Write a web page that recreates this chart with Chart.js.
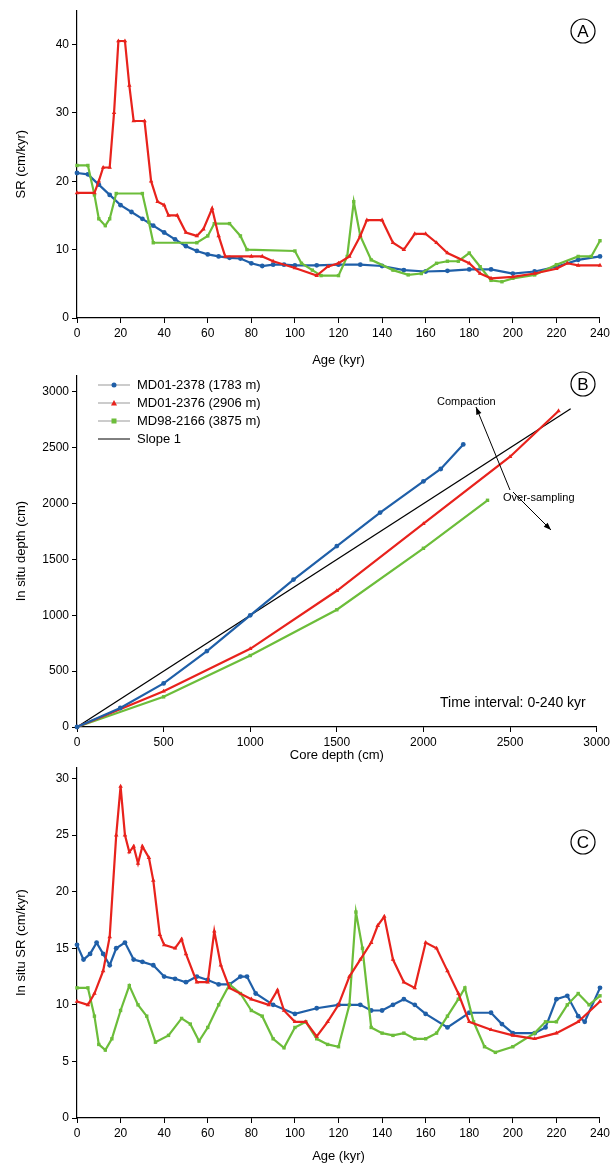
<!DOCTYPE html>
<html><head><meta charset="utf-8">
<script src="https://cdn.jsdelivr.net/npm/chart.js@4"></script>
<style>
body{margin:0;background:#fff;width:613px;height:1166px;overflow:hidden;font-family:Arial,"Liberation Sans",sans-serif}
.p{position:absolute;left:0;width:613px}
</style></head><body>
<div class="p" style="top:0;height:370px"><canvas id="cA"></canvas></div>
<div class="p" style="top:365px;height:400px"><canvas id="cB"></canvas></div>
<div class="p" style="top:757px;height:409px"><canvas id="cC"></canvas></div>
<script>
const BLUE = '#1f5fa8', RED = '#e8221c', GREEN = '#6cbd3a';
const SERIES_NAMES = ['MD01-2378 (1783 m)', 'MD01-2376 (2906 m)', 'MD98-2166 (3875 m)'];

// Panel A: sedimentation rate vs age
const srBlueAge = [0,5,10,15,20,25,30,35,40,45,50,55,60,65,70,75,80,85,90,95,100,110,120,130,140,150,160,170,180,190,200,210,220,230,240];
const srBlue = [21.2,21,19.5,18,16.5,15.5,14.5,13.5,12.5,11.5,10.5,9.8,9.3,9,8.8,8.7,8,7.6,7.8,7.8,7.7,7.7,7.8,7.8,7.6,7,6.8,6.9,7.1,7.1,6.5,6.8,7.5,8.5,9];
const srRedAge = [0,8,10,12,15,17,19,22,24,26,31,34,37,40,42,46,50,55,58,62,65,68,80,85,90,100,110,115,120,125,130,133,140,145,150,155,160,165,170,180,185,190,200,210,220,225,230,240];
const srRed = [18.3,18.3,20,22,22,30,40.5,40.5,34,28.8,28.8,20,17,16.5,15,15,12.5,12,13,16,12,9,9,9,8.3,7.3,6.2,7.5,8,9,12,14.3,14.3,11,10,12.3,12.3,11,9.5,8,6.5,5.8,6,6.5,7.2,8,7.7,7.7];
const srGreenAge = [0,5,8,10,13,15,18,30,33,35,55,60,63,70,75,78,100,103,108,112,120,124,127,130,135,145,152,158,165,170,175,180,185,190,195,200,210,220,230,236,240];
const srGreen = [22.3,22.3,18,14.5,13.5,14.5,18.2,18.2,14,11,11,12,13.8,13.8,12,10,9.8,8,7,6.2,6.2,9,17,12,8.5,7,6.3,6.5,8,8.3,8.3,9.5,7.5,5.5,5.3,5.8,6.3,7.8,9,9,11.3];

// Panel B: in situ depth vs core depth
const dBlueCore = [0,250,500,750,1000,1250,1500,1750,2000,2100,2230];
const dBlue = [0,170,390,680,1000,1320,1620,1920,2200,2310,2530];
const dRedCore = [0,500,1000,1500,2000,2500,2780];
const dRed = [0,320,700,1220,1820,2420,2830];
const dGreenCore = [0,500,1000,1500,2000,2370];
const dGreen = [0,270,640,1050,1600,2030];
const slopeCore = [0,2850];

// Panel C: in situ sedimentation rate vs age
const isBlueAge = [0,3,6,9,12,15,18,22,26,30,35,40,45,50,55,60,65,70,75,78,82,90,100,110,120,130,135,140,145,150,155,160,170,180,190,195,200,210,215,220,225,230,233,240];
const isBlue = [15.3,14,14.5,15.5,14.5,13.5,15,15.5,14,13.8,13.5,12.5,12.3,12,12.5,12.2,11.8,11.8,12.5,12.5,11,10,9.2,9.7,10,10,9.5,9.5,10,10.5,10,9.2,8,9.3,9.3,8.3,7.5,7.5,8,10.5,10.8,9,8.5,11.5];
const isRedAge = [0,5,8,12,15,18,20,22,24,26,28,30,33,35,38,40,45,48,50,55,60,63,66,70,80,88,92,95,100,105,110,115,120,125,130,135,138,141,145,150,155,160,165,170,175,180,190,200,210,220,230,240];
const isRed = [10.3,10,11,13,16,25,29.3,25,23.5,24,22.5,24,23,21,16.2,15.3,15,15.8,14.5,12,12,16.5,13.5,11.5,10.5,10,11.3,9.5,8.5,8.5,7.2,8.5,10,12.5,14,15.5,17,17.8,14,12,11.5,15.5,15,13,11,8.5,7.8,7.3,7,7.5,8.5,10.3];
const isGreenAge = [0,5,8,10,13,16,20,24,28,32,36,42,48,52,56,60,65,70,75,80,85,90,95,100,105,110,115,120,125,128,131,135,140,145,150,155,160,165,170,175,178,182,187,192,200,210,215,220,225,230,235,240];
const isGreen = [11.5,11.5,9,6.5,6,7,9.5,11.7,10,9,6.7,7.3,8.8,8.3,6.8,8,10,11.8,11,9.5,9,7,6.2,8,8.5,7,6.5,6.3,10,18.2,15,8,7.5,7.3,7.5,7,7,7.5,9,10.5,11.5,8.5,6.3,5.8,6.3,7.5,8.5,8.5,10,11,10,10.8];

const ageTicks = [0,20,40,60,80,100,120,140,160,180,200,220,240];

function pts(xs, ys){ return xs.map((x,i)=>({x:x, y:ys[i]})); }
function ds(xs, ys, color, shape, r){
  return {data: pts(xs,ys), showLine:true, borderColor:color, borderWidth:2.2, backgroundColor:color,
    pointStyle:shape, pointRadius:r, pointBorderWidth:0, pointHoverRadius:r};
}
const font = {family:'Arial, "Liberation Sans", sans-serif', size:12};
const tfont = {family:'Arial, "Liberation Sans", sans-serif', size:13};

function letterPlugin(letter, cx, cy, extra){
  return {id:'lab'+letter, afterDraw(ch){
    const c = ch.ctx; c.save();
    c.beginPath(); c.arc(cx, cy, 12, 0, Math.PI*2); c.strokeStyle='#000'; c.lineWidth=1.2; c.stroke();
    c.fillStyle='#000'; c.font='17px Arial, "Liberation Sans", sans-serif'; c.textAlign='center'; c.textBaseline='middle';
    c.fillText(letter, cx, cy+1);
    if (extra) extra(ch, c);
    c.restore();
  }};
}
function axisCfg(min, max, title, ticksList, fitW, fitH, isX){
  return {type:'linear', min:min, max:max, border:{color:'#000', width:1.2},
    grid:{drawOnChartArea:false, drawTicks:true, tickLength:5, color:'#000'},
    ticks:{color:'#000', font:font, padding:3, autoSkip:false, callback:(v)=>String(v)},
    title:{display:true, text:title, color:'#000', font:tfont, padding:{top:2,bottom:2}},
    afterBuildTicks(s){ s.ticks = ticksList.map(v=>({value:v})); },
    afterFit(s){ if (isX) s.height = fitH; else s.width = fitW; }};
}
function makeChart(id, datasets, xAxis, yAxis, plugins){
  return new Chart(document.getElementById(id), {
    type:'scatter', data:{datasets:datasets},
    options:{responsive:true, maintainAspectRatio:false, animation:false, clip:false,
      layout:{padding:{left:12, right:13, top:10, bottom:0}},
      plugins:{legend:{display:false}, tooltip:{enabled:false}},
      scales:{x:xAxis, y:yAxis}},
    plugins:plugins
  });
}

makeChart('cA', [
  ds(srRedAge, srRed, RED, 'triangle', 2.6),
  ds(srGreenAge, srGreen, GREEN, 'rect', 2.4),
  ds(srBlueAge, srBlue, BLUE, 'circle', 2.4)
], axisCfg(0,240,'Age (kyr)',ageTicks,0,52,true),
   axisCfg(0,45,'SR (cm/kyr)',[0,10,20,30,40],65,0,false),
   [letterPlugin('A', 583, 31)]);

function legendExtra(ch, c){
  const items = [[BLUE,'circle'],[RED,'triangle'],[GREEN,'rect'],['#000',null]];
  const names = SERIES_NAMES.concat(['Slope 1']);
  c.font = '13px Arial, "Liberation Sans", sans-serif'; c.textAlign='left'; c.textBaseline='middle';
  items.forEach((it,i)=>{
    const y = 20 + i*18;
    c.strokeStyle = it[1] ? '#999' : '#000'; c.lineWidth = 1;
    c.beginPath(); c.moveTo(98,y); c.lineTo(130,y); c.stroke();
    if (it[1]) {
      c.fillStyle = it[0];
      if (it[1]==='circle'){ c.beginPath(); c.arc(114,y,2.5,0,Math.PI*2); c.fill(); }
      else if (it[1]==='triangle'){ c.beginPath(); c.moveTo(114,y-3); c.lineTo(117,y+2.5); c.lineTo(111,y+2.5); c.fill(); }
      else c.fillRect(111.5,y-2.5,5,5);
    }
    c.fillStyle='#000'; c.fillText(names[i], 137, y);
  });
  c.font = '11px Arial, "Liberation Sans", sans-serif';
  c.fillText('Compaction', 437, 37);
  c.fillText('Over-sampling', 503, 133);
  c.font = '14px Arial, "Liberation Sans", sans-serif';
  c.fillText('Time interval: 0-240 kyr', 440, 338);
  function arrow(x1,y1,x2,y2){
    c.beginPath(); c.moveTo(x1,y1); c.lineTo(x2,y2); c.strokeStyle='#000'; c.lineWidth=1; c.stroke();
    const a = Math.atan2(y2-y1,x2-x1);
    c.beginPath(); c.moveTo(x2,y2);
    c.lineTo(x2-8*Math.cos(a-0.35), y2-8*Math.sin(a-0.35));
    c.lineTo(x2-8*Math.cos(a+0.35), y2-8*Math.sin(a+0.35)); c.closePath(); c.fillStyle='#000'; c.fill();
  }
  arrow(510,125,476,42);
  arrow(513,127,551,165);
}
makeChart('cB', [
  ds(dBlueCore, dBlue, BLUE, 'circle', 2.4),
  ds(dRedCore, dRed, RED, 'triangle', 2.6),
  ds(dGreenCore, dGreen, GREEN, 'rect', 2.4),
  {data: pts(slopeCore, slopeCore), showLine:true, borderColor:'#000', borderWidth:1.3, pointRadius:0}
], axisCfg(0,3000,'Core depth (cm)',[0,500,1000,1500,2000,2500,3000],0,38,true),
   axisCfg(0,3150,'In situ depth (cm)',[0,500,1000,1500,2000,2500,3000],65,0,false),
   [letterPlugin('B', 583, 19, legendExtra)]);

makeChart('cC', [
  ds(isRedAge, isRed, RED, 'triangle', 2.6),
  ds(isGreenAge, isGreen, GREEN, 'rect', 2.4),
  ds(isBlueAge, isBlue, BLUE, 'circle', 2.4)
], axisCfg(0,240,'Age (kyr)',ageTicks,0,48,true),
   axisCfg(0,31,'In situ SR (cm/kyr)',[0,5,10,15,20,25,30],65,0,false),
   [letterPlugin('C', 583, 85)]);
</script>
</body></html>
